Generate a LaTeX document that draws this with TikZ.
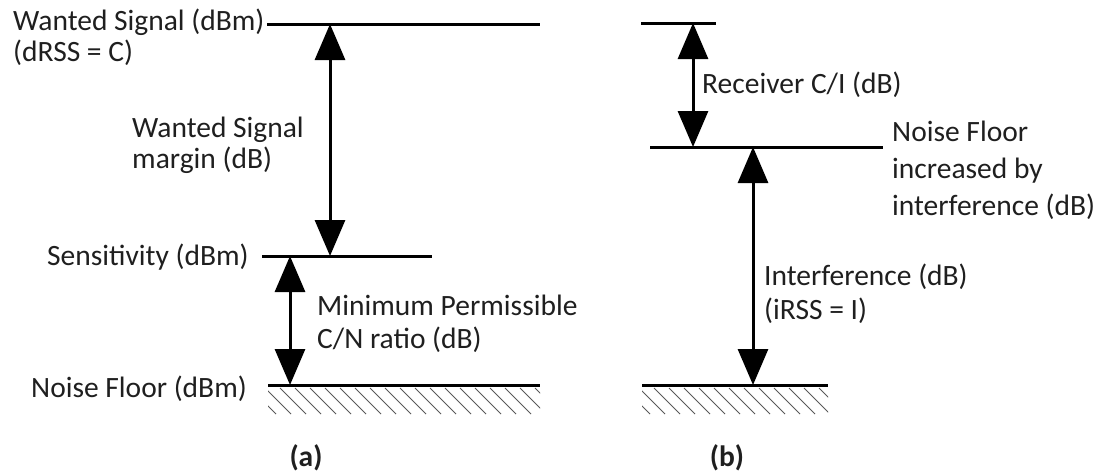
\documentclass[tikz,border=0pt]{standalone}
\usepackage{fontspec}
\setmainfont{Carlito}
\usetikzlibrary{arrows.meta}
\colorlet{txtcol}{black!88}

\begin{document}
\begin{tikzpicture}[x=1pt,y=-1pt,
	level/.style={line width=3pt},
	gap/.style={line width=3pt,{Triangle[width=30pt,length=36pt]}-{Triangle[width=30pt,length=36pt]}},
	lbl/.style={anchor=base west,inner sep=0pt,align=left,text=txtcol,font=\fontsize{29.5}{31}\selectfont},
	caption/.style={anchor=base,inner sep=0pt,text=txtcol,font=\fontsize{29.5}{31}\selectfont\bfseries},
	hatch/.style={line width=0.8pt,black!65}]
	\useasboundingbox (0,0) rectangle (1108,475);

	% (a) levels
	\coordinate (wsL) at (267,24);  \coordinate (wsR) at (540,24);
	\coordinate (seL) at (262,256); \coordinate (seR) at (432,256);
	\coordinate (nfL) at (268,385); \coordinate (nfR) at (540,385);
	\draw[level] (wsL) -- (wsR);
	\draw[level] (seL) -- (seR);
	\draw[level] (nfL) -- (nfR);
	\coordinate (mTop) at (330,24);  \coordinate (mBot) at (330,256);
	\coordinate (cnTop) at (290,256); \coordinate (cnBot) at (290,385);
	\draw[gap] (mTop) -- (mBot);
	\draw[gap] (cnTop) -- (cnBot);
	\begin{scope}
		\clip (268,387) rectangle (540,414);
		\foreach \x in {250,265,...,540}
			\draw[hatch] (\x,388) -- ++(26,26);
	\end{scope}

	% multi-line labels sit on the baseline of their last line
	\node[lbl] (lblWanted) at (13,61) {Wanted Signal (dBm)\\(dRSS = C)};
	\node[lbl] (lblMargin) at (132,168) {Wanted Signal\\margin (dB)};
	\node[lbl] (lblSens) at (47,265) {Sensitivity (dBm)};
	\node[lbl,font=\fontsize{29.5}{33}\selectfont] (lblMinCN) at (317,348) {Minimum Permissible\\C/N ratio (dB)};
	\node[lbl] (lblFloorA) at (31,397) {Noise Floor (dBm)};
	\node[caption] (capA) at (306,466) {(a)};

	% (b) levels
	\coordinate (ciL) at (641,23);  \coordinate (ciR) at (716,23);
	\coordinate (riL) at (650,147); \coordinate (riR) at (883,147);
	\coordinate (flL) at (642,385); \coordinate (flR) at (828,385);
	\draw[level] (ciL) -- (ciR);
	\draw[level] (riL) -- (riR);
	\draw[level] (flL) -- (flR);
	\coordinate (ciTop) at (693,23);  \coordinate (ciBot) at (693,147);
	\coordinate (inTop) at (753,147); \coordinate (inBot) at (753,385);
	\draw[gap] (ciTop) -- (ciBot);
	\draw[gap] (inTop) -- (inBot);
	\begin{scope}
		\clip (642,387) rectangle (828,414);
		\foreach \x in {624,639,...,828}
			\draw[hatch] (\x,388) -- ++(26,26);
	\end{scope}

	\node[lbl] (lblCI) at (702,93) {Receiver C/I (dB)};
	\node[lbl,font=\fontsize{29.5}{37}\selectfont] (lblFloorB) at (892,215) {Noise Floor\\increased by\\interference (dB)};
	\node[lbl,font=\fontsize{29.5}{34}\selectfont] (lblInterf) at (764,319) {Interference (dB)\\(iRSS = I)};
	\node[caption] (capB) at (727,466) {(b)};
\end{tikzpicture}
\end{document}
